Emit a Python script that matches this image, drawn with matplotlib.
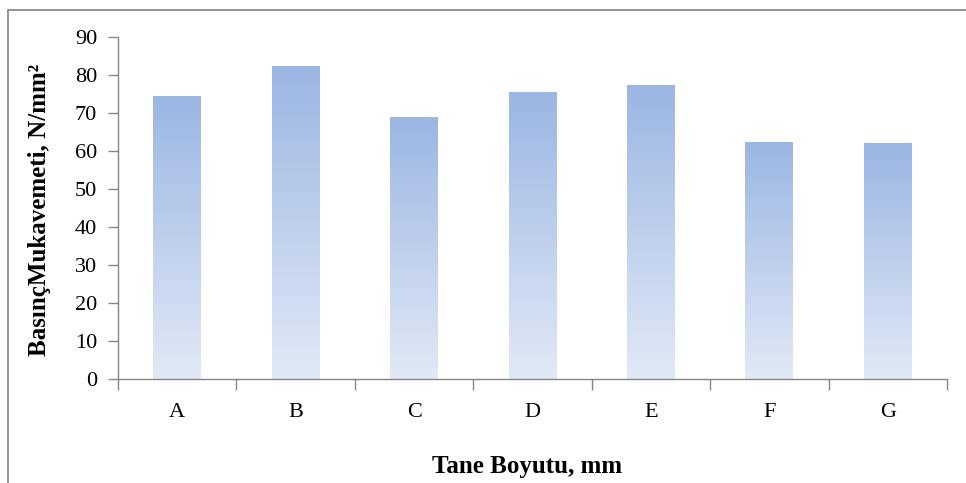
import matplotlib
matplotlib.use("Agg")
import matplotlib.pyplot as plt
import numpy as np
from matplotlib.patches import Rectangle
from matplotlib.colors import LinearSegmentedColormap

categories = ["A", "B", "C", "D", "E", "F", "G"]
values = [74.5, 82.3, 69.0, 75.5, 77.4, 62.3, 62.0]
yticks = [0, 10, 20, 30, 40, 50, 60, 70, 80, 90]

plt.rcParams['font.family'] = ['Liberation Serif', 'DejaVu Serif']

fig = plt.figure(figsize=(9.66, 4.83), dpi=100)
ax = fig.add_axes([118/966, 1-379/483, (947-118)/966, (379-37)/483])

# figure border (clipped right/bottom)
fig.patches.append(Rectangle((8/966, -0.2), 2, 1.2 - 10/483, transform=fig.transFigure,
                             fill=False, edgecolor='#8c8c8c', linewidth=1.3))

cmap = LinearSegmentedColormap.from_list('g', ['#e2e9f6', '#9bb6e3'])
grad = np.linspace(0, 1, 256).reshape(-1, 1)
x = np.arange(len(categories))
bars = ax.bar(x, values, width=0.405, color='none', edgecolor='none')
for b in bars:
    x0, w, h = b.get_x(), b.get_width(), b.get_height()
    im = ax.imshow(grad, extent=(x0, x0 + w, 0, h), origin='lower', cmap=cmap,
                   aspect='auto', zorder=2)
    im.set_clip_path(b)

ax.set_xlim(-0.5, len(categories) - 0.5)
ax.set_ylim(0, 90)
ax.set_yticks(yticks)
ax.set_xticks(x)
ax.set_xticklabels(categories)
ax.set_xticks(np.arange(-0.5, len(categories), 1.0), minor=True)
ax.tick_params(axis='x', which='major', length=0, pad=17, labelsize=16)
ax.tick_params(axis='x', which='minor', length=8, color='#868686', width=1)
ax.tick_params(axis='y', length=7, color='#868686', width=1, labelsize=16, pad=8)

for s in ['top', 'right']:
    ax.spines[s].set_visible(False)
for s in ['left', 'bottom']:
    ax.spines[s].set_color('#868686')
    ax.spines[s].set_linewidth(1)

fig.text(40/966, 1-210/483, "BasınçMukavemeti, N/mm²", fontsize=18, fontweight='bold',
         rotation=90, ha='center', va='center')
fig.text(527/966, 1-466/483, "Tane Boyutu, mm", fontsize=18, fontweight='bold',
         ha='center', va='center')

fig.savefig("out.png", dpi=100)
